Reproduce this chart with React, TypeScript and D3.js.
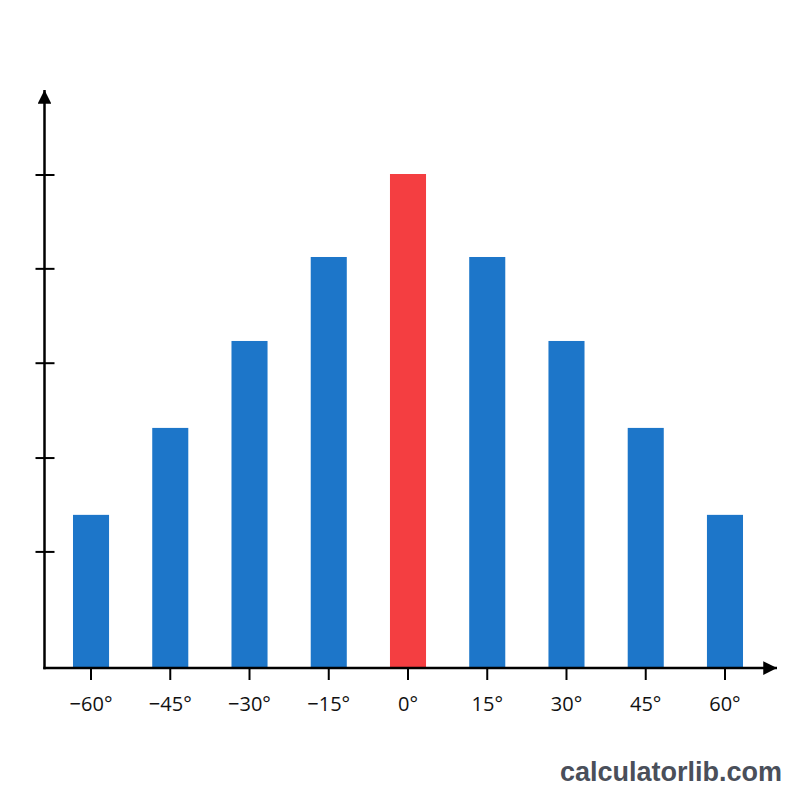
import { useEffect, useRef } from 'react'
import * as d3 from 'd3'

const angles = ['−60°', '−45°', '−30°', '−15°', '0°', '15°', '30°', '45°', '60°']
const values = [31, 48.6, 66.2, 83.2, 100, 83.2, 66.2, 48.6, 31]
const yTicks = [23.5, 42.5, 61.7, 80.8, 99.8]
const highlight = '0°'

const W = 800
const H = 800

export default function App() {
  const svgRef = useRef<SVGSVGElement>(null)

  useEffect(() => {
    if (!svgRef.current) return
    const svg = d3.select(svgRef.current)
    svg.selectAll('*').remove()

    const axisX = 44.5
    const baseY = 668

    const x = d3.scaleBand<string>()
      .domain(angles)
      .range([51.4, 764.6])
      .paddingInner(0.545)
      .paddingOuter(0.2725)
    const y = d3.scaleLinear().domain([0, 100]).range([baseY, 174])

    const defs = svg.append('defs')
    defs.append('marker')
      .attr('id', 'arrow')
      .attr('viewBox', '0 0 10 10')
      .attr('refX', 10).attr('refY', 5)
      .attr('markerWidth', 5.5).attr('markerHeight', 5.5)
      .attr('markerUnits', 'strokeWidth')
      .attr('orient', 'auto')
      .append('path').attr('d', 'M0,0 L10,5 L0,10 z').attr('fill', '#000')

    // Bars
    svg.append('g')
      .selectAll('rect')
      .data(angles)
      .join('rect')
      .attr('x', d => x(d)!)
      .attr('width', x.bandwidth())
      .attr('y', (_, i) => y(values[i]))
      .attr('height', (_, i) => baseY - y(values[i]))
      .attr('fill', d => (d === highlight ? '#f43e41' : '#1d76c9'))

    // Y ticks
    svg.append('g')
      .selectAll('line')
      .data(yTicks)
      .join('line')
      .attr('x1', axisX - 9).attr('x2', axisX + 10)
      .attr('y1', d => y(d)).attr('y2', d => y(d))
      .attr('stroke', '#000').attr('stroke-width', 2)

    // X ticks + labels
    const xt = svg.append('g')
    xt.selectAll('line')
      .data(angles)
      .join('line')
      .attr('x1', d => x(d)! + x.bandwidth() / 2)
      .attr('x2', d => x(d)! + x.bandwidth() / 2)
      .attr('y1', baseY).attr('y2', baseY + 12)
      .attr('stroke', '#000').attr('stroke-width', 2)
    xt.selectAll('text')
      .data(angles)
      .join('text')
      .attr('x', d => x(d)! + x.bandwidth() / 2)
      .attr('y', 711)
      .attr('text-anchor', 'middle')
      .style('font-family', '"Open Sans", sans-serif')
      .style('font-size', '20px')
      .style('fill', '#111')
      .text(d => d)

    // Axes with arrows
    svg.append('line')
      .attr('x1', axisX).attr('y1', baseY + 1.2)
      .attr('x2', axisX).attr('y2', 90)
      .attr('stroke', '#000').attr('stroke-width', 2.5)
      .attr('marker-end', 'url(#arrow)')
    svg.append('line')
      .attr('x1', axisX - 1.2).attr('y1', baseY)
      .attr('x2', 777).attr('y2', baseY)
      .attr('stroke', '#000').attr('stroke-width', 2.5)
      .attr('marker-end', 'url(#arrow)')

    // Watermark
    svg.append('text')
      .attr('x', 782).attr('y', 781)
      .attr('text-anchor', 'end')
      .style('font-family', '"Liberation Sans", Arial, sans-serif')
      .style('font-weight', 'bold')
      .style('font-size', '27px')
      .style('fill', '#4a4f5a')
      .text('calculatorlib.com')
  }, [])

  return (
    <svg
      ref={svgRef}
      width={W}
      height={H}
      style={{ position: 'absolute', left: 0, top: 0, background: '#fff' }}
    />
  )
}
